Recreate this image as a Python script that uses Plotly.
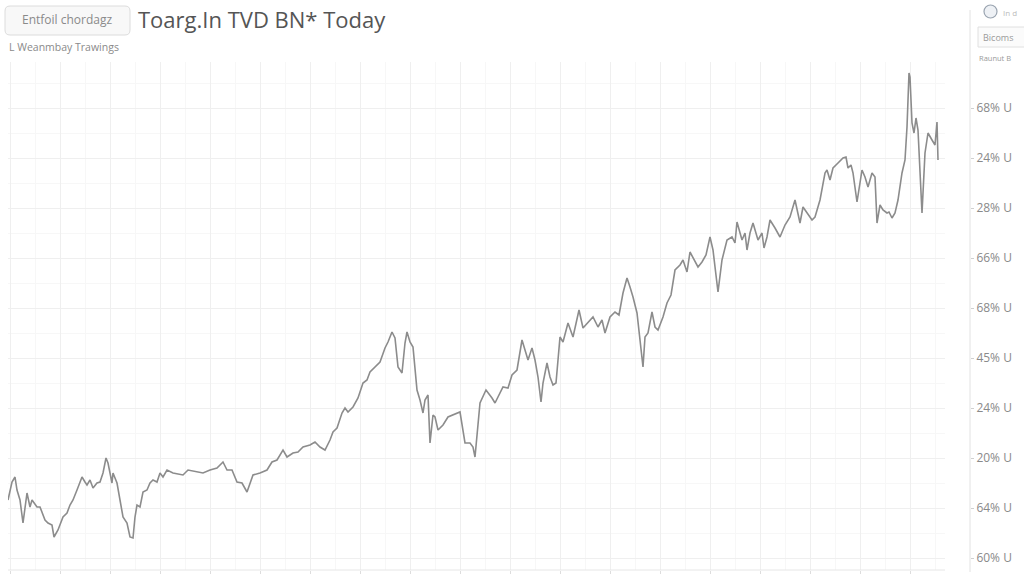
import plotly.graph_objects as go

# ---- data ----
days = [0, 4, 7, 9, 12, 15, 19, 22, 24, 29, 32, 37, 40, 44, 46, 50, 55, 59, 62, 65,
        69, 74, 77, 79, 82, 85, 89, 92, 95, 98, 100, 104, 105, 109, 112, 115, 119, 122, 125, 127,
        129, 132, 135, 139, 142, 145, 149, 152, 155, 159, 165, 175, 180, 189, 195, 202, 209, 215, 219, 224,
        229, 234, 239, 245, 252, 259, 264, 269, 275, 279, 282, 285, 290, 295, 302, 307, 312, 317, 322, 325,
        329, 334, 337, 340, 345, 350, 355, 359, 362, 367, 372, 377, 380, 384, 387, 390, 394, 397, 399, 402,
        405, 409, 412, 415, 417, 420, 422, 425, 427, 430, 435, 440, 445, 452, 457, 462, 465, 467, 472, 478,
        484, 487, 495, 500, 504, 509, 514, 517, 520, 524, 527, 530, 533, 535, 539, 542, 545, 548, 552, 555,
        560, 565, 571, 575, 580, 585, 590, 594, 597, 602, 607, 611, 615, 619, 622, 625, 629, 631, 635, 637,
        640, 644, 647, 650, 655, 659, 663, 667, 672, 675, 679, 682, 687, 690, 694, 698, 702, 705, 710, 714,
        719, 724, 727, 729, 734, 737, 739, 742, 745, 750, 754, 756, 759, 762, 767, 772, 777, 782, 787, 792,
        795, 799, 804, 807, 812, 817, 819, 822, 825, 830, 835, 838, 840, 843, 845, 849, 851, 854, 857, 860,
        864, 867, 869, 872, 875, 879, 881, 884, 887, 890, 894, 897, 899, 901, 902, 904, 906, 908, 910, 914,
        917, 920, 924, 927, 929, 930]
values = [11.6, 15.2, 16.2, 13.6, 11.6, 7.0, 13.0, 10.2, 11.6, 10.2, 10.2, 7.6, 7.0, 6.6, 4.2, 5.6, 8.2, 9.0, 10.6, 11.6,
          13.6, 16.2, 15.2, 14.6, 15.6, 14.0, 15.0, 15.2, 17.0, 20.0, 19.0, 15.0, 17.0, 15.0, 11.6, 8.2, 7.0, 4.2, 4.0, 8.2,
          10.6, 10.2, 13.2, 13.6, 15.0, 15.6, 15.2, 17.0, 16.2, 17.6, 17.0, 16.6, 17.6, 17.2, 17.0, 17.6, 18.0, 19.2, 17.6, 17.6,
          15.2, 15.0, 13.2, 16.6, 17.0, 17.6, 19.2, 19.6, 21.6, 20.2, 20.6, 21.0, 21.2, 22.2, 22.6, 23.2, 22.2, 21.6, 23.6, 25.2,
          26.0, 29.0, 30.0, 29.2, 30.2, 32.0, 35.0, 35.6, 37.2, 38.2, 39.2, 42.0, 43.2, 45.2, 44.0, 38.2, 37.0, 43.0, 45.2, 43.2,
          42.2, 33.6, 31.6, 29.0, 31.6, 32.6, 23.0, 28.6, 28.2, 25.6, 26.6, 28.2, 28.6, 29.2, 23.0, 23.0, 22.2, 20.2, 31.0, 33.6,
          32.0, 31.0, 34.2, 34.0, 36.6, 37.6, 43.6, 41.6, 39.6, 42.0, 39.6, 36.2, 31.2, 35.0, 39.0, 36.2, 34.6, 35.0, 44.2, 43.2,
          47.0, 44.2, 49.6, 46.0, 47.2, 48.2, 46.2, 47.6, 45.0, 48.2, 49.2, 48.6, 53.0, 56.0, 54.2, 52.2, 49.0, 45.6, 38.2, 44.2,
          45.0, 49.2, 46.2, 45.6, 48.2, 51.0, 52.6, 57.6, 58.6, 59.6, 57.2, 61.2, 59.2, 58.2, 59.2, 60.6, 64.2, 61.6, 53.2, 59.6,
          63.6, 64.2, 63.0, 67.2, 63.6, 65.0, 61.6, 65.0, 67.0, 63.6, 65.0, 62.0, 64.2, 67.6, 66.0, 64.2, 66.6, 68.2, 71.6, 67.0,
          70.2, 69.0, 67.6, 68.2, 71.6, 77.0, 77.6, 75.6, 78.0, 79.0, 80.0, 80.2, 78.0, 78.6, 77.0, 71.2, 74.2, 77.6, 76.2, 74.2,
          77.0, 76.2, 67.0, 70.6, 69.6, 69.0, 69.2, 68.0, 69.0, 71.6, 77.0, 79.6, 86.2, 97.0, 96.2, 87.0, 85.0, 88.0, 85.6, 69.0,
          81.0, 85.0, 83.6, 82.6, 87.2, 79.6]

y_tick_vals = [90, 80, 70, 60, 50, 40, 30, 20, 10, 0]
y_tick_text = ["68% U", "24% U", "28% U", "66% U", "68% U", "45% U", "24% U", "20% U", "64% U", "60% U"]

title_text = "Toarg.In TVD BN* Today"
button_text = "Entfoil chordagz"
subtitle_text = "L Weanmbay Trawings"
corner_link_text = "In d"
corner_box_text = "Bicoms"
corner_note_text = "Raunut B"

W, H = 1024, 576


def px(x):
    return x / W


def py(y):
    return 1 - y / H


fig = go.Figure()
fig.add_trace(go.Scatter(
    x=days, y=values, mode="lines",
    line=dict(color="#8c8c8c", width=1.6),
    hoverinfo="skip", showlegend=False,
))

fig.update_layout(
    width=W, height=H,
    margin=dict(l=0, r=0, t=0, b=0),
    paper_bgcolor="white", plot_bgcolor="white",
    font=dict(family="Open Sans, DejaVu Sans, sans-serif", color="#888"),
    showlegend=False,
    xaxis=dict(
        domain=[px(8), px(945)], range=[0, 937],
        tick0=2, dtick=50, ticks="outside", ticklen=3, tickcolor="#dddddd",
        showticklabels=False, showline=False, zeroline=False,
        showgrid=True, gridcolor="#efefef", gridwidth=1,
        minor=dict(dtick=25, tick0=2, showgrid=True, gridcolor="#f7f7f7"),
        automargin=False, fixedrange=True,
    ),
    yaxis=dict(
        domain=[py(570), py(62)], range=[-2.4, 99.2],
        side="right", anchor="free", position=px(970),
        tickvals=y_tick_vals, ticktext=y_tick_text,
        tickfont=dict(size=12, color="#8a8a8a"),
        ticks="outside", ticklen=3, tickcolor="#d0d0d0",
        showline=False, zeroline=False,
        showgrid=True, gridcolor="#efefef", gridwidth=1,
        minor=dict(dtick=5, showgrid=True, gridcolor="#f7f7f7"),
        automargin=False, fixedrange=True,
    ),
)

# bottom axis line and right vertical rule
fig.add_shape(type="line", xref="paper", yref="paper",
              x0=px(8), x1=px(945), y0=py(570), y1=py(570),
              line=dict(color="#e6e6e6", width=1))
fig.add_shape(type="line", xref="paper", yref="paper",
              x0=px(970), x1=px(970), y0=py(10), y1=py(572),
              line=dict(color="#e2e2e2", width=1))

# button (rounded rectangle)
x0, x1, y0, y1, r = 5, 130, 6, 35, 5
path = (f"M {px(x0 + r)},{py(y0)} L {px(x1 - r)},{py(y0)} "
        f"Q {px(x1)},{py(y0)} {px(x1)},{py(y0 + r)} L {px(x1)},{py(y1 - r)} "
        f"Q {px(x1)},{py(y1)} {px(x1 - r)},{py(y1)} L {px(x0 + r)},{py(y1)} "
        f"Q {px(x0)},{py(y1)} {px(x0)},{py(y1 - r)} L {px(x0)},{py(y0 + r)} "
        f"Q {px(x0)},{py(y0)} {px(x0 + r)},{py(y0)} Z")
fig.add_shape(type="path", xref="paper", yref="paper", path=path,
              fillcolor="#f8f8f8", line=dict(color="#dcdcdc", width=1))

fig.add_annotation(xref="paper", yref="paper", x=px(67), y=py(20),
                   text=button_text, showarrow=False, xanchor="center", yanchor="middle",
                   font=dict(size=12, color="#8a8a8a"))
fig.add_annotation(xref="paper", yref="paper", x=px(136), y=py(19),
                   text=title_text, showarrow=False, xanchor="left", yanchor="middle",
                   font=dict(size=22, color="#555555"))
fig.add_annotation(xref="paper", yref="paper", x=px(7), y=py(47),
                   text=subtitle_text, showarrow=False, xanchor="left", yanchor="middle",
                   font=dict(size=10.5, color="#8a8a8a"))

# top-right controls
fig.add_shape(type="circle", xref="paper", yref="paper",
              x0=px(984), x1=px(997), y0=py(5), y1=py(18),
              line=dict(color="#9aa4b0", width=1.2), fillcolor="#eef1f5")
fig.add_annotation(xref="paper", yref="paper", x=px(1001), y=py(12),
                   text=corner_link_text, showarrow=False, xanchor="left", yanchor="middle",
                   font=dict(size=8, color="#bbbbbb"))
fig.add_shape(type="rect", xref="paper", yref="paper",
              x0=px(978), x1=px(1030), y0=py(27), y1=py(47),
              line=dict(color="#e0e0e0", width=1), fillcolor="#fbfbfb")
fig.add_annotation(xref="paper", yref="paper", x=px(981), y=py(37),
                   text=corner_box_text, showarrow=False, xanchor="left", yanchor="middle",
                   font=dict(size=9, color="#9a9a9a"))
fig.add_annotation(xref="paper", yref="paper", x=px(977), y=py(58),
                   text=corner_note_text, showarrow=False, xanchor="left", yanchor="middle",
                   font=dict(size=7.5, color="#9a9a9a"))

fig.write_html("out.html", config={"displayModeBar": False, "staticPlot": True})

# remove the browser's default 8px page margin so the figure sits at (0, 0)
with open("out.html", "r", encoding="utf-8") as f:
    html = f.read()
html = html.replace("<head>", "<head><style>html,body{margin:0;padding:0;overflow:hidden;}</style>", 1)
with open("out.html", "w", encoding="utf-8") as f:
    f.write(html)
